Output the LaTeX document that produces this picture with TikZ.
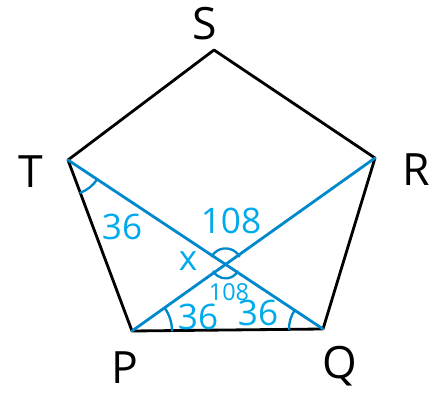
\documentclass[tikz,border=0pt]{standalone}
\usepackage{fontspec}
\setmainfont{Open Sans}
\usetikzlibrary{calc}
\definecolor{lineBlue}{RGB}{0, 136, 204}
\definecolor{textBlue}{RGB}{0, 170, 235}
\tikzset{
  edge/.style={line width=2.4pt, black, line cap=round, line join=round},
  diag/.style={line width=2.4pt, lineBlue, line cap=round},
  anglemark/.style={line width=2pt, lineBlue, line cap=round},
  vlabel/.style={font=\fontsize{38}{38}\selectfont, text=black, inner sep=0pt},
  alabel/.style={font=\fontsize{30}{30}\selectfont, text=textBlue, inner sep=0pt}
}
\begin{document}
\begin{tikzpicture}[x=0.03cm, y=0.03cm]
    \useasboundingbox (0,0) rectangle (441,393);

    % Vertices del pentagono
    \coordinate (S) at (214,343);
    \coordinate (R) at (375,235);
    \coordinate (Q) at (323,64);
    \coordinate (P) at (132,62);
    \coordinate (T) at (68,233);

    % Pentagono
    \draw[edge] (S) -- (R) -- (Q) -- (P) -- (T) -- cycle;

    % Diagonales
    \draw[diag] (T) -- (Q);
    \draw[diag] (P) -- (R);
    \coordinate (X) at (intersection of T--Q and P--R);

    % Marcas de angulos
    \draw[anglemark] ([shift={(-69.5:35)}]T) arc[start angle=-69.5, end angle=-33.5, radius=35];
    \draw[anglemark] ([shift={(0.6:40)}]P) arc[start angle=0.6, end angle=35.4, radius=40];
    \draw[anglemark] ([shift={(146.5:34)}]Q) arc[start angle=146.5, end angle=180.6, radius=34];
    \draw[anglemark] ([shift={(30:16)}]X) arc[start angle=30, end angle=150, radius=16];
    \draw[anglemark] ([shift={(210:14)}]X) arc[start angle=210, end angle=330, radius=14];

    % Etiquetas de vertices
    \node[vlabel] (lblS) at (205,369) {S};
    \node[vlabel] (lblT) at (31,221) {T};
    \node[vlabel] (lblR) at (416,223) {R};
    \node[vlabel] (lblP) at (125,25) {P};
    \node[vlabel] (lblQ) at (340,27) {Q};

    % Etiquetas de angulos
    \node[alabel] (angT) at (122,166) {36};
    \node[alabel] (angTop) at (231,172) {108};
    \node[alabel] (angX) at (188,132) {x};
    \node[alabel, font=\fontsize{20}{20}\selectfont] (angLow) at (229,101) {108};
    \node[alabel] (angP) at (198,76) {36};
    \node[alabel] (angQ) at (258,80) {36};
\end{tikzpicture}
\end{document}
